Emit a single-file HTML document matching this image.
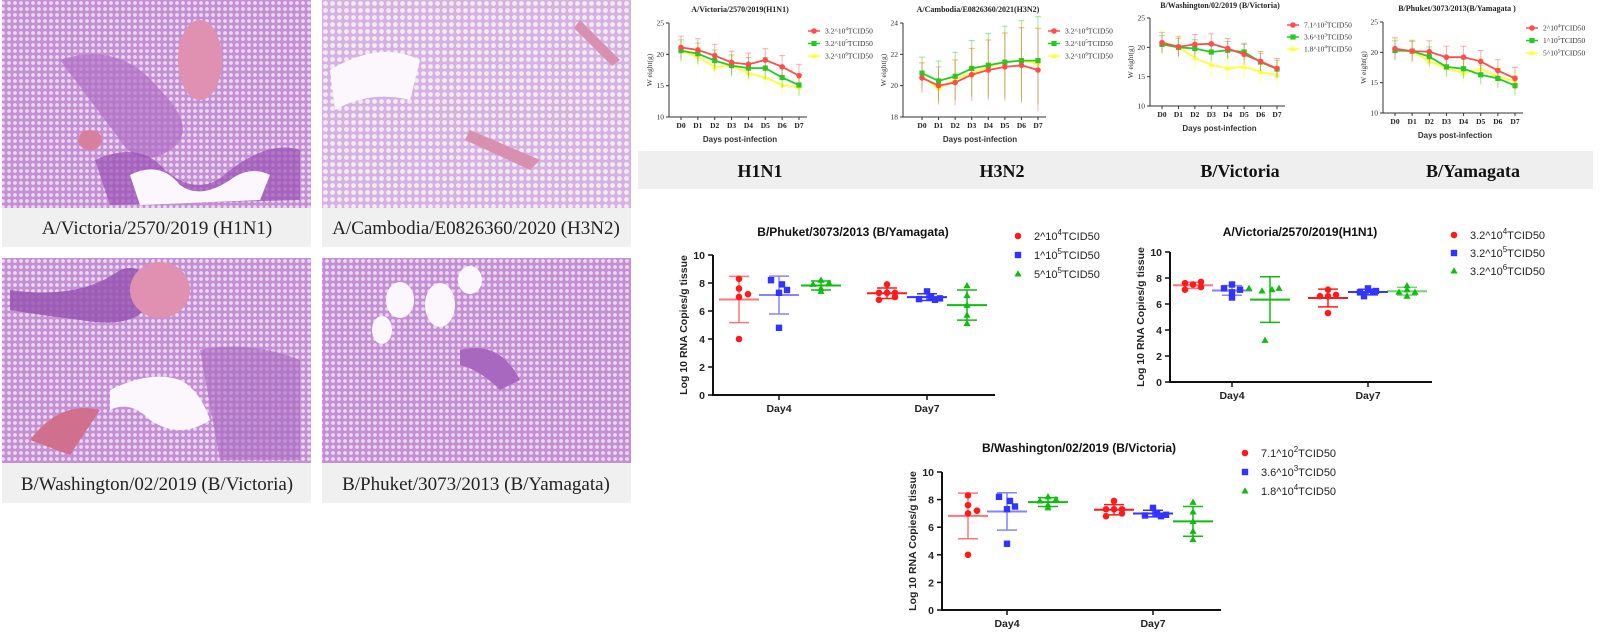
<!DOCTYPE html>
<html><head><meta charset="utf-8"><style>
body{margin:0;background:#fff;width:1600px;height:632px;overflow:hidden}
svg{display:block}
</style></head><body>
<svg id="s" width="1600" height="632" xmlns="http://www.w3.org/2000/svg" font-family="Liberation Sans, sans-serif">
<defs>
<pattern id="alv" width="6" height="6" patternUnits="userSpaceOnUse">
<rect width="6" height="6" fill="#c48fd3"/><circle cx="3" cy="3" r="1.9" fill="#ead9f0"/>
</pattern>
<pattern id="alv2" width="7" height="7" patternUnits="userSpaceOnUse">
<rect width="7" height="7" fill="#d6b2e0"/><circle cx="3.5" cy="3.5" r="2.4" fill="#f4eaf6"/>
</pattern>
</defs>
<!-- photos -->
<rect x="2" y="0" width="309" height="208" fill="url(#alv)"/>
<path d="M60 60 Q120 40 160 90 Q200 130 170 150 Q140 170 120 140 Z" fill="#b06fc4" opacity=".7"/>
<path d="M95 160 Q140 140 165 170 Q200 200 230 170 Q270 140 300 150 L300 200 L110 205 Z" fill="#9a50b4" opacity=".7"/>
<path d="M130 175 Q160 160 180 185 Q200 200 230 180 Q250 165 270 175 L260 200 L140 205 Z" fill="#fbf7fc"/>
<ellipse cx="200" cy="60" rx="22" ry="40" fill="#e090b0"/>
<ellipse cx="90" cy="140" rx="12" ry="10" fill="#d87f9f"/>
<rect x="322" y="0" width="309" height="208" fill="url(#alv2)"/>
<path d="M330 70 Q380 40 420 60 L410 100 Q370 90 335 110 Z" fill="#fbf7fc"/>
<path d="M470 130 L540 160 L530 170 L465 140 Z" fill="#d890b0"/>
<path d="M580 20 L620 60 L612 66 L574 28 Z" fill="#d890b0"/>
<rect x="2" y="208" width="309" height="39" fill="#f0f0f0"/>
<rect x="322" y="208" width="309" height="39" fill="#f0f0f0"/>
<text x="157" y="234" font-family="Liberation Serif, serif" font-size="19" text-anchor="middle" fill="#222">A/Victoria/2570/2019 (H1N1)</text>
<text x="476" y="234" font-family="Liberation Serif, serif" font-size="19" text-anchor="middle" fill="#222">A/Cambodia/E0826360/2020 (H3N2)</text>
<rect x="2" y="258" width="309" height="205" fill="url(#alv)"/>
<path d="M10 290 Q80 300 120 270 Q150 260 150 300 Q140 330 80 320 Q40 315 10 310 Z" fill="#9350b0" opacity=".8"/>
<ellipse cx="160" cy="290" rx="30" ry="28" fill="#e090b0"/>
<path d="M110 390 Q150 370 180 380 Q200 390 210 420 Q180 440 150 420 Q130 400 110 410 Z" fill="#fbf7fc"/>
<path d="M30 440 Q60 400 100 410 L70 455 Z" fill="#d0708e"/>
<path d="M200 350 Q250 340 300 360 L300 460 L220 460 Z" fill="#a868c0" opacity=".6"/>
<rect x="322" y="258" width="309" height="205" fill="url(#alv)"/>
<ellipse cx="400" cy="300" rx="14" ry="18" fill="#fbf7fc"/>
<ellipse cx="440" cy="305" rx="15" ry="22" fill="#fbf7fc"/>
<ellipse cx="382" cy="330" rx="10" ry="14" fill="#fbf7fc"/>
<ellipse cx="470" cy="280" rx="12" ry="14" fill="#fbf7fc"/>
<path d="M460 350 Q500 340 520 380 L500 390 Q480 370 460 365 Z" fill="#a868c0"/>
<rect x="2" y="463" width="309" height="40" fill="#f0f0f0"/>
<rect x="322" y="463" width="309" height="40" fill="#f0f0f0"/>
<text x="157" y="490" font-family="Liberation Serif, serif" font-size="19" text-anchor="middle" fill="#222">B/Washington/02/2019 (B/Victoria)</text>
<text x="476" y="490" font-family="Liberation Serif, serif" font-size="19" text-anchor="middle" fill="#222">B/Phuket/3073/2013 (B/Yamagata)</text>
<!-- gray band -->
<rect x="638" y="151" width="955" height="38" fill="#efefef"/>
<g font-family="Liberation Serif, serif" font-weight="bold" font-size="18" text-anchor="middle" fill="#111">
<text x="760" y="177">H1N1</text><text x="1002" y="177">H3N2</text>
<text x="1240" y="177">B/Victoria</text><text x="1473" y="177">B/Yamagata</text>
</g>
<g id="g"></g>
</svg>
<script>
var G=document.getElementById('g'),h='';
var R='#ff4d4d',Gn='#22cc22',Y='#ffff33';
function line(o){
 var ys=function(v){return o.yb-(v-o.lo)/(o.hi-o.lo)*(o.yb-o.yt)};
 var xs=function(i){return o.x0+i*(o.x7-o.x0)/7};
 h+='<text x="'+o.tc+'" y="'+o.ty+'" font-family="Liberation Serif, serif" font-weight="bold" font-size="8" text-anchor="middle" fill="#222">'+o.title+'</text>';
 h+='<path d="M'+o.ax+' '+o.yt+'V'+o.yb+'H'+(o.x7+8)+'" stroke="#333" fill="none" stroke-width="1"/>';
 for(var k=0;k<o.ticks.length;k++){var v=o.ticks[k],y=ys(v);h+='<line x1="'+(o.ax-3)+'" x2="'+o.ax+'" y1="'+y+'" y2="'+y+'" stroke="#333"/><text x="'+(o.ax-5)+'" y="'+(y+2.5)+'" font-family="Liberation Serif, serif" font-size="7.5" text-anchor="end" fill="#333">'+v+'</text>'}
 for(var i=0;i<8;i++){h+='<line x1="'+xs(i)+'" x2="'+xs(i)+'" y1="'+o.yb+'" y2="'+(o.yb+3)+'" stroke="#333"/><text x="'+xs(i)+'" y="'+(o.yb+11)+'" font-family="Liberation Serif, serif" font-weight="bold" font-size="7.5" text-anchor="middle" fill="#222">D'+i+'</text>'}
 h+='<text x="'+((o.x0+o.x7)/2)+'" y="'+(o.yb+25)+'" font-size="8" font-weight="bold" text-anchor="middle" fill="#333">Days post-infection</text>';
 h+='<text transform="translate('+(o.ax-17)+','+((o.yt+o.yb)/2)+') rotate(-90)" font-family="Liberation Serif, serif" font-size="7.5" text-anchor="middle" fill="#333">W eight(g)</text>';
 var cols=[R,Gn,Y];
 for(var s=2;s>=0;s--){var d=o.d[s],p='';
  for(i=0;i<8;i++){var e=o.err[s]*(o.grow?(0.6+i*0.15):1);h+='<line x1="'+xs(i)+'" x2="'+xs(i)+'" y1="'+ys(d[i]+e)+'" y2="'+ys(d[i]-e)+'" stroke="'+cols[s]+'" opacity=".45"/><line x1="'+(xs(i)-3)+'" x2="'+(xs(i)+3)+'" y1="'+ys(d[i]+e)+'" y2="'+ys(d[i]+e)+'" stroke="'+cols[s]+'" opacity=".45"/>';p+=(i?'L':'M')+xs(i)+' '+ys(d[i])}
  h+='<path d="'+p+'" stroke="'+cols[s]+'" stroke-width="1.8" fill="none"/>';
  for(i=0;i<8;i++){if(s==0)h+='<circle cx="'+xs(i)+'" cy="'+ys(d[i])+'" r="2.8" fill="'+R+'"/>';else if(s==1)h+='<rect x="'+(xs(i)-2.6)+'" y="'+(ys(d[i])-2.6)+'" width="5.2" height="5.2" fill="'+Gn+'"/>';else h+='<path d="M'+xs(i)+' '+(ys(d[i])-3)+'l3 5h-6z" fill="'+Y+'"/>'}
 }
 for(s=0;s<3;s++){var ly=o.ly+s*o.lg;h+='<line x1="'+(o.lx-6)+'" x2="'+(o.lx+6)+'" y1="'+ly+'" y2="'+ly+'" stroke="'+cols[s]+'" stroke-width="1.5"/>';
  if(s==0)h+='<circle cx="'+o.lx+'" cy="'+ly+'" r="2.8" fill="'+R+'"/>';else if(s==1)h+='<rect x="'+(o.lx-2.6)+'" y="'+(ly-2.6)+'" width="5.2" height="5.2" fill="'+Gn+'"/>';else h+='<path d="M'+o.lx+' '+(ly-3)+'l3 5h-6z" fill="'+Y+'"/>';
  h+='<text x="'+(o.lx+11)+'" y="'+(ly+2.5)+'" font-family="Liberation Serif, serif" font-size="7.5" fill="#333">'+o.leg[s]+'</text>'}
}
line({title:'A/Victoria/2570/2019(H1N1)',tc:740,ty:12,ax:669,x0:681,x7:799,yt:23,yb:117,lo:10,hi:25,ticks:[10,15,20,25],lx:814,ly:31,lg:12.5,err:[1.8,1.7,1.5],
 leg:['3.2^10<tspan dy="-3" font-size="5">4</tspan><tspan dy="3">TCID50</tspan>','3.2^10<tspan dy="-3" font-size="5">5</tspan><tspan dy="3">TCID50</tspan>','3.2^10<tspan dy="-3" font-size="5">6</tspan><tspan dy="3">TCID50</tspan>'],
 d:[[21.1,20.7,19.8,18.7,18.4,19.1,18,16.6],[20.6,20.1,19,18.2,17.8,17.8,16.3,15.1],[20.5,19.6,18,18.2,17,16.3,15.1,14.7]]});
line({title:'A/Cambodia/E0826360/2021(H3N2)',tc:978,ty:12,ax:903,x0:922,x7:1038,yt:23,yb:117,lo:18,hi:24,ticks:[18,20,22,24],lx:1054,ly:31,lg:12.5,err:[1.6,1.7,1.4],grow:1,
 leg:['3.2^10<tspan dy="-3" font-size="5">4</tspan><tspan dy="3">TCID50</tspan>','3.2^10<tspan dy="-3" font-size="5">5</tspan><tspan dy="3">TCID50</tspan>','3.2^10<tspan dy="-3" font-size="5">6</tspan><tspan dy="3">TCID50</tspan>'],
 d:[[20.5,20,20.2,20.7,21,21.2,21.3,21],[20.8,20.3,20.6,21.1,21.3,21.5,21.6,21.6],[20.6,19.8,20.4,20.8,21.2,21.5,21.6,21.4]]});
line({title:'B/Washington/02/2019 (B/Victoria)',tc:1220,ty:8,ax:1150,x0:1162,x7:1277,yt:18,yb:106,lo:10,hi:25,ticks:[10,15,20,25],lx:1293,ly:25,lg:12,err:[1.7,1.5,2],
 leg:['7.1^10<tspan dy="-3" font-size="5">2</tspan><tspan dy="3">TCID50</tspan>','3.6^10<tspan dy="-3" font-size="5">3</tspan><tspan dy="3">TCID50</tspan>','1.8^10<tspan dy="-3" font-size="5">4</tspan><tspan dy="3">TCID50</tspan>'],
 d:[[20.8,20.1,20.5,20.6,19.8,18.8,17.6,16.4],[20.5,20,19.8,19.2,19.5,19.2,17.5,16.3],[20.7,20,18.2,17,16.4,16.7,15.8,15.3]]});
line({title:'B/Phuket/3073/2013(B/Yamagata )',tc:1457,ty:11,ax:1383,x0:1395,x7:1515,yt:22,yb:113,lo:10,hi:25,ticks:[10,15,20,25],lx:1532,ly:28,lg:12.5,err:[1.8,1.6,1.7],
 leg:['2^10<tspan dy="-3" font-size="5">4</tspan><tspan dy="3">TCID50</tspan>','1^10<tspan dy="-3" font-size="5">5</tspan><tspan dy="3">TCID50</tspan>','5^10<tspan dy="-3" font-size="5">5</tspan><tspan dy="3">TCID50</tspan>'],
 d:[[20.6,20.2,20.1,19.2,19.2,18.5,17,15.7],[20.3,20.2,19.3,17.6,17.3,16.3,15.7,14.5],[20.5,20.2,18.5,17.4,16.6,17.3,16,15.3]]});

var SR='#ff1a1a',SB='#3333ff',SG='#11bb11';
function mk(t,x,y,c){if(t==0)return '<circle cx="'+x+'" cy="'+y+'" r="3.3" fill="'+c+'"/>';if(t==1)return '<rect x="'+(x-3.2)+'" y="'+(y-3.2)+'" width="6.4" height="6.4" fill="'+c+'"/>';return '<path d="M'+x+' '+(y-3.8)+'l3.6 6.3h-7.2z" fill="'+c+'"/>'}
function sc(o){
 var ys=function(v){return o.y0-v/10*(o.y0-o.y10)};
 h+='<text x="'+o.tc+'" y="'+o.ty+'" font-size="12" font-weight="bold" text-anchor="middle" fill="#111">'+o.title+'</text>';
 h+='<path d="M'+o.ax+' '+o.y10+'V'+o.y0+'H'+o.xe+'" stroke="#111" stroke-width="2" fill="none"/>';
 for(var v=0;v<=10;v+=2){var y=ys(v);h+='<line x1="'+(o.ax-5)+'" x2="'+o.ax+'" y1="'+y+'" y2="'+y+'" stroke="#111" stroke-width="1.5"/><text x="'+(o.ax-8)+'" y="'+(y+4)+'" font-size="10.5" font-weight="bold" text-anchor="end" fill="#222">'+v+'</text>'}
 h+='<text transform="translate('+(o.ax-26)+','+((o.y10+o.y0)/2)+') rotate(-90)" font-size="10.5" font-weight="bold" text-anchor="middle" fill="#222">Log 10 RNA Copies/g tissue</text>';
 var days=['Day4','Day7'];
 for(var d=0;d<2;d++){var dx=o.dx[d];h+='<line x1="'+dx+'" x2="'+dx+'" y1="'+o.y0+'" y2="'+(o.y0+5)+'" stroke="#111" stroke-width="1.5"/><text x="'+dx+'" y="'+(o.y0+17)+'" font-size="10.5" font-weight="bold" text-anchor="middle" fill="#222">'+days[d]+'</text>'}
 var cols=[SR,SB,SG];
 for(var g=0;g<6;g++){var gx=o.gx[g],s=g%3,pts=o.pts[g],c=cols[s];
  var m=0;for(var i=0;i<pts.length;i++)m+=pts[i][1];m/=pts.length;var sd=0;for(i=0;i<pts.length;i++)sd+=(pts[i][1]-m)*(pts[i][1]-m);sd=Math.sqrt(sd/(pts.length-1));
  var op=(g==0||g==1||g==5&&o.k==1)?0.6:1;
  h+='<g stroke="'+c+'" stroke-width="1.5" opacity="'+op+'"><line x1="'+gx+'" x2="'+gx+'" y1="'+ys(m+sd)+'" y2="'+ys(m-sd)+'"/><line x1="'+(gx-20)+'" x2="'+(gx+20)+'" y1="'+ys(m)+'" y2="'+ys(m)+'" stroke-width="2"/><line x1="'+(gx-10)+'" x2="'+(gx+10)+'" y1="'+ys(m+sd)+'" y2="'+ys(m+sd)+'"/><line x1="'+(gx-10)+'" x2="'+(gx+10)+'" y1="'+ys(m-sd)+'" y2="'+ys(m-sd)+'"/></g>';
  for(i=0;i<pts.length;i++)h+=mk(s,gx+pts[i][0],ys(pts[i][1]),c);
 }
 for(s=0;s<3;s++){var ly=o.ly+s*o.lg;h+=mk(s,o.lx,ly,cols[s]);h+='<text x="'+(o.lx+16)+'" y="'+(ly+4)+'" font-size="11" fill="#222">'+o.leg[s]+'</text>'}
}
var yamPts=[[[0,8.3],[0,7.6],[0,7],[9,7.2],[0,4]],[[-8,8.2],[3,7.9],[0,7.3],[8,7.5],[0,4.8]],[[0,8.2],[-8,7.9],[8,8],[0,7.6],[0,7.4]],[[-8,7.3],[0,7.3],[8,7.3],[0,7.9],[-8,6.8],[8,7]],[[-8,6.85],[0,7.4],[4,7],[8,6.8],[13,6.9]],[[0,7.8],[0,7.1],[0,6.4],[0,5.7],[0,5.1]]];
function sup(a,b){return a+'^10<tspan dy="-5" font-size="8">'+b+'</tspan><tspan dy="5">TCID50</tspan>'}
sc({k:0,title:'B/Phuket/3073/2013 (B/Yamagata)',tc:853,ty:236,ax:713,y10:255,y0:395,xe:995,dx:[779,927],gx:[739,779,821,887,927,967],lx:1018,ly:236,lg:19,
 leg:[sup('2','4'),sup('1','5'),sup('5','5')],pts:yamPts});
sc({k:1,title:'A/Victoria/2570/2019(H1N1)',tc:1300,ty:236,ax:1170,y10:252,y0:382,xe:1432,dx:[1232,1368],gx:[1193,1232,1270,1328,1368,1407],lx:1454,ly:235,lg:18,
 leg:[sup('3.2','4'),sup('3.2','5'),sup('3.2','6')],
 pts:[[[-8,7.6],[0,7.5],[8,7.7],[-8,7.1],[8,7.3]],[[-8,7.2],[0,7.5],[8,7.1],[0,6.9],[0,6.5]],[[-21,7.2],[-8,7],[2,7.1],[9,7.2],[-5,3.2]],[[-8,6.6],[0,7.1],[8,6.7],[0,6.6],[0,5.3]],[[-8,6.9],[0,7.2],[8,7],[-4,6.6],[5,6.9]],[[0,7.4],[-8,6.9],[8,6.9],[0,6.6],[0,7.1]]]});
sc({k:0,title:'B/Washington/02/2019 (B/Victoria)',tc:1079,ty:452,ax:942,y10:472,y0:610,xe:1221,dx:[1007,1153],gx:[968,1007,1048,1114,1153,1193],lx:1245,ly:453,lg:19,
 leg:[sup('7.1','2'),sup('3.6','3'),sup('1.8','4')],pts:yamPts});
G.innerHTML=h;
</script>
</body></html>
